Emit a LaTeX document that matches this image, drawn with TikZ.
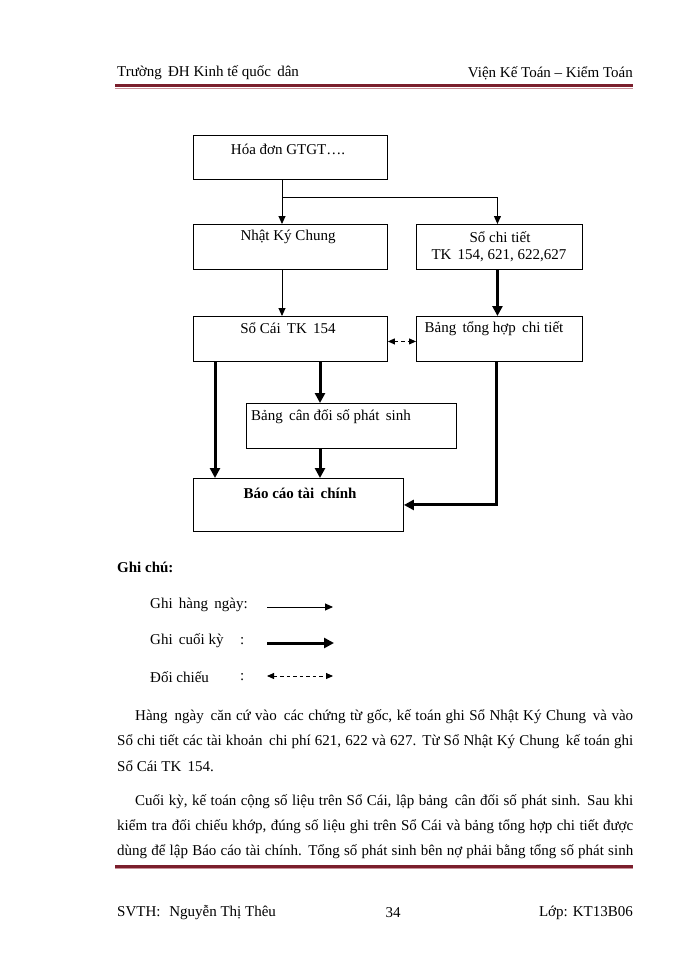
\documentclass[tikz,border=0pt]{standalone}
\usepackage{fontspec}
\setmainfont{Liberation Serif}
\usetikzlibrary{arrows.meta}
\definecolor{maroon}{HTML}{7A1E2C}
\definecolor{pinkline}{HTML}{C89098}
\tikzset{
  box/.style={draw, line width=0.9pt, inner sep=0pt, anchor=north west},
  txt/.style={inner sep=0pt, font=\fontsize{15}{18}\selectfont},
  thinarrow/.style={line width=0.9pt, -{Triangle[length=8pt,width=7pt]}},
  thickarrow/.style={line width=3pt, -{Triangle[length=10pt,width=10pt]}},
  dasharrow/.style={line width=0.9pt, dash pattern=on 3.5pt off 3pt, {Triangle[length=7pt,width=6pt]}-{Triangle[length=7pt,width=6pt]}},
}
\begin{document}
\begin{tikzpicture}[x=1pt,y=-1pt]
\useasboundingbox (0,0) rectangle (700,960);
% header
\node[txt, anchor=west] (h1) at (117,73) {Trường\, ĐH Kinh tế quốc\, dân};
\node[txt, anchor=east] (h2) at (633,73) {Viện Kế Toán – Kiểm Toán};
\draw[maroon, line width=3pt] (115,86) -- (633,86);
\draw[pinkline, line width=0.8pt] (115,88.4) -- (633,88.4);
% boxes
\node[box, minimum width=194pt, minimum height=44pt] (hd) at (193,135) {};
\node[txt] (hdT) at (288,149) {Hóa đơn GTGT….};
\node[box, minimum width=194pt, minimum height=45pt] (nkc) at (193,224) {};
\node[txt] (nkcT) at (288,237) {Nhật Ký Chung};
\node[box, minimum width=166pt, minimum height=45pt] (sct) at (416,224) {};
\node[txt] (sctT1) at (500,237) {Sổ chi tiết};
\node[txt] (sctT2) at (499,256) {TK\, 154, 621, 622,627};
\node[box, minimum width=194pt, minimum height=45pt] (sc) at (193,316) {};
\node[txt] (scT) at (288,328) {Sổ Cái\, TK\, 154};
\node[box, minimum width=166pt, minimum height=45pt] (bth) at (416,316) {};
\node[txt] (bthT) at (494,329) {Bảng\, tổng hợp\, chi tiết};
\node[box, minimum width=210pt, minimum height=45pt] (bcd) at (246,403) {};
\node[txt] (bcdT) at (331,417) {Bảng\, cân đối số phát\, sinh};
\node[box, minimum width=210pt, minimum height=53pt] (bc) at (193,478) {};
\node[txt, font=\fontsize{15}{18}\selectfont\bfseries] (bcT) at (300,493) {Báo cáo tài\, chính};
% helper coordinates
\coordinate (j) at (282,197);
\coordinate (xl) at (215,0);
\coordinate (xm) at (320,0);
% connectors
\draw[line width=0.9pt] (j |- hd.south) -- (j);
\draw[thinarrow] (j) -- (j |- nkc.north);
\draw[thinarrow] (j) -| ([xshift=-2pt]sct.north);
\draw[thinarrow] (j |- nkc.south) -- (j |- sc.north);
\draw[thickarrow] ([xshift=-2pt]sct.south) -- ([xshift=-2pt]bth.north);
\draw[dasharrow] ([yshift=-2.5pt]sc.east) -- ([yshift=-2.5pt]bth.west);
\draw[thickarrow] (xl |- sc.south) -- (xl |- bc.north);
\draw[thickarrow] (xm |- sc.south) -- (xm |- bcd.north);
\draw[thickarrow] (xm |- bcd.south) -- (xm |- bc.north);
\draw[thickarrow] ([xshift=-3pt]bth.south) |- (bc.east);
% legend
\node[txt, anchor=west, font=\fontsize{15}{18}\selectfont\bfseries] (gc) at (117,567) {Ghi chú:};
\node[txt, anchor=west] (l1) at (150,605) {Ghi\, hàng\, ngày:};
\node[txt, anchor=west] (l2) at (150,641) {Ghi\, cuối kỳ};
\node[txt, anchor=west] (l2c) at (240,641) {:};
\node[txt, anchor=west] (l3) at (150,677) {Đối chiếu};
\node[txt, anchor=west] (l3c) at (240,677) {:};
\coordinate (a1) at (267,607); \coordinate (b1) at (333,607);
\coordinate (a2) at (267,643); \coordinate (b2) at (334,643);
\coordinate (a3) at (267,676); \coordinate (b3) at (333,676);
\draw[thinarrow] (a1) -- (b1);
\draw[thickarrow] (a2) -- (b2);
\draw[dasharrow] (a3) -- (b3);
% paragraphs
\node[txt, anchor=west] (p1) at (135,717) {\hbox to 498pt{Hàng\, ngày\, căn cứ vào\, các chứng từ gốc, kế toán ghi Sổ Nhật Ký Chung\, và vào}};
\node[txt, anchor=west] (p2) at (117,742) {\hbox to 516pt{Sổ chi tiết các tài khoản\, chi phí 621, 622 và 627. Từ Sổ Nhật Ký Chung\, kế toán ghi}};
\node[txt, anchor=west] (p3) at (117,766) {Sổ Cái TK\, 154.};
\node[txt, anchor=west] (p4) at (135,802) {\hbox to 498pt{Cuối kỳ, kế toán cộng số liệu trên Sổ Cái, lập bảng\, cân đối số phát sinh. Sau khi}};
\node[txt, anchor=west] (p5) at (117,827) {\hbox to 516pt{kiểm tra đối chiếu khớp, đúng số liệu ghi trên Sổ Cái và bảng tổng hợp chi tiết được}};
\node[txt, anchor=west] (p6) at (117,852) {\hbox to 516pt{dùng để lập Báo cáo tài chính. Tổng số phát sinh bên nợ phải bằng tổng số phát sinh}};
% footer
\draw[maroon, line width=3pt] (115,866) -- (633,866);
\draw[pinkline, line width=0.8pt] (115,868.4) -- (633,868.4);
\node[txt, anchor=west] (f1) at (117,913) {SVTH:\,\, Nguyễn Thị Thêu};
\node[txt] (f2) at (393,913) {34};
\node[txt, anchor=east] (f3) at (633,913) {Lớp: KT13B06};
\end{tikzpicture}
\end{document}
